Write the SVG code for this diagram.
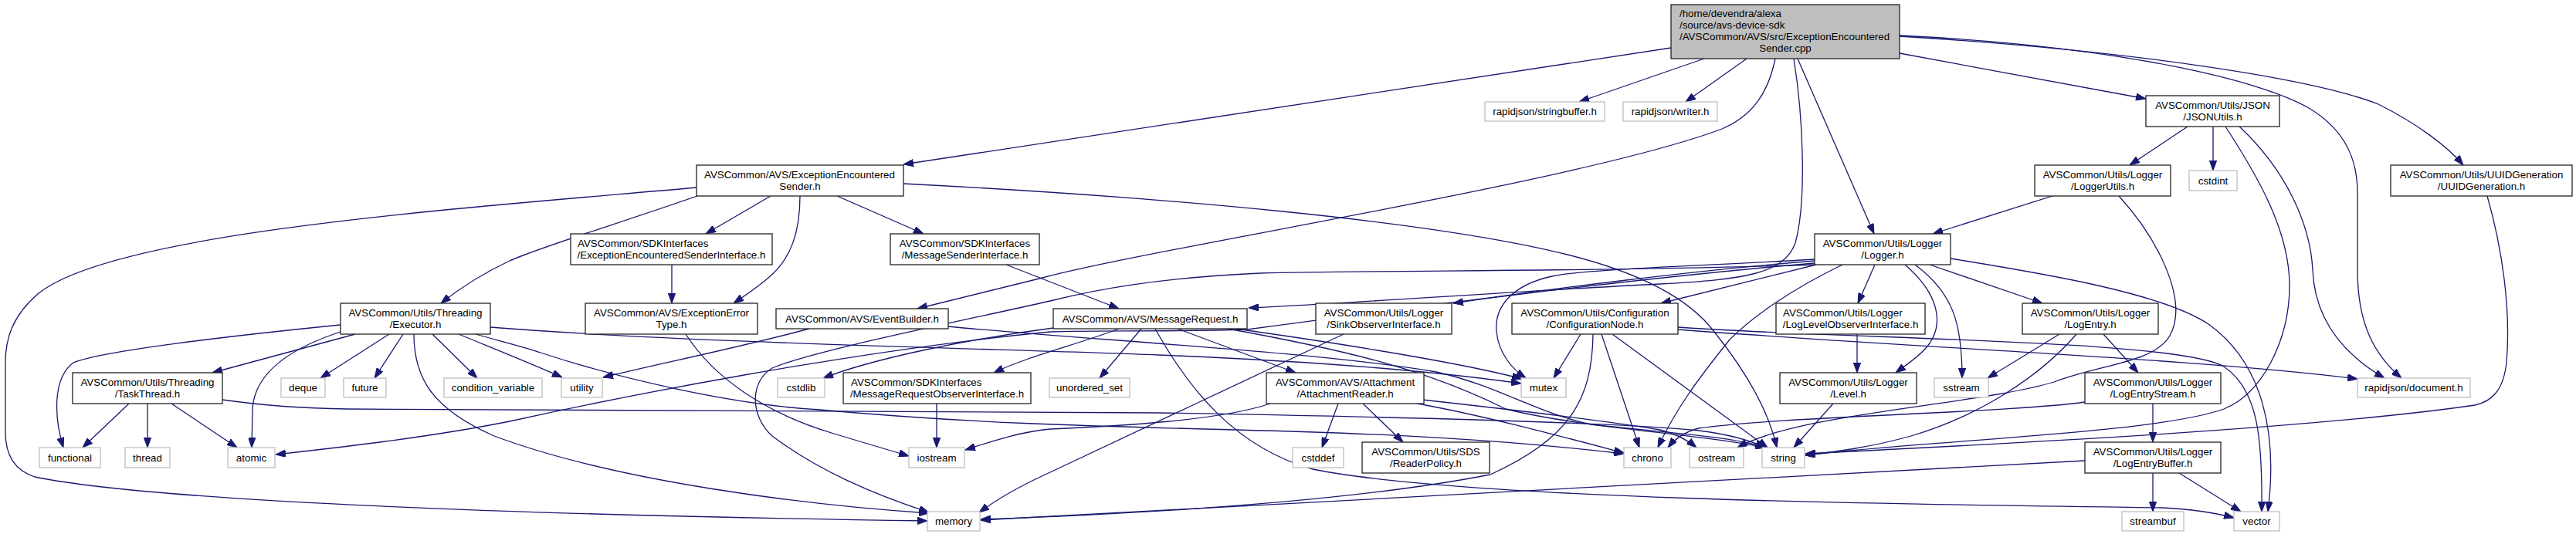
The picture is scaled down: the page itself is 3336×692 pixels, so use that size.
<svg xmlns="http://www.w3.org/2000/svg" width="3336" height="692" viewBox="0 0 3336 692">
<defs>
<marker id="a" viewBox="0 0 13 9.4" refX="13" refY="4.7" markerWidth="13" markerHeight="9.4" markerUnits="userSpaceOnUse" orient="auto"><path d="M0,0L13,4.7L0,9.4z" fill="#191970" stroke="#191970" stroke-width="1"/></marker>
<style>
.e path{fill:none;stroke:#191970;stroke-width:1.3;marker-end:url(#a)}
.n rect{fill:#fff;stroke:#222;stroke-width:1.3}
.l rect{fill:#fff;stroke:#bfbfbf;stroke-width:1.3}
.r rect{fill:#bfbfbf;stroke:#222;stroke-width:1.3}
text{font-family:"Liberation Sans",Arial,Helvetica,sans-serif;font-size:13.33px;fill:#000}
.c{text-anchor:middle}
</style>
</defs>
<rect width="3336" height="692" fill="#fff"/>
<g id="edges" class="e">
<path d="M2164,62 L1170,213"/>
<path d="M2207,76 L2045,132"/>
<path d="M2262,76 L2183,132"/>
<path d="M2299,76 C2290,120 2270,150 2230,167 C2050,235 1500,320 1350,360 L1188,400"/>
<path d="M2328,76 L2427,303"/>
<path d="M2460,69 L2779,128"/>
<path d="M2460,47 C2750,65 2990,100 3080,135 C3130,160 3170,190 3190,214"/>
<path d="M2460,46 C2750,60 2930,105 2990,140 C3040,170 3053,210 3053,250 L3053,350 C3053,420 3075,460 3110,490"/>
<path d="M2323,76 C2335,150 2340,260 2325,315 C2310,355 2260,362 2150,368 C1950,378 1750,393 1617,399"/>
<path d="M902,243 C600,270 150,300 50,380 C15,410 7,440 7,470 L7,560 C7,590 20,610 45,618 C200,650 700,668 1201,675"/>
<path d="M903,254 C800,290 700,320 660,338 C630,352 600,370 571,393"/>
<path d="M998,254 L914,303"/>
<path d="M1036,254 C1036,300 1025,335 995,360 C980,373 965,383 950,393"/>
<path d="M1084,254 L1196,303"/>
<path d="M1170,238 C1500,255 1850,285 2030,330 C2130,355 2190,390 2220,430 C2260,480 2290,530 2301,580"/>
<path d="M870,343 L870,393"/>
<path d="M1303,343 L1449,400"/>
<path d="M441,421 C300,435 130,455 95,470 C68,490 70,540 82,580"/>
<path d="M460,433 L275,483"/>
<path d="M441,430 C380,450 330,480 327,530 L326,580"/>
<path d="M504,433 L415,490"/>
<path d="M522,433 L485,490"/>
<path d="M560,433 L618,490"/>
<path d="M594,433 C640,452 690,472 728,489"/>
<path d="M536,433 C536,490 560,530 640,565 C800,625 1050,655 1203,665"/>
<path d="M635,424 C900,445 1300,452 1500,460 C1700,468 1850,480 1970,497"/>
<path d="M616,433 C640,440 680,450 700,457 C800,490 950,525 1062,531 C1250,548 1400,552 1600,557 C1800,562 1950,570 2103,588"/>
<path d="M167,523 L107,580"/>
<path d="M191,523 L191,580"/>
<path d="M222,523 L307,580"/>
<path d="M288,518 C330,524 380,529 450,530 L1500,535 C1800,540 2100,548 2200,558 C2240,563 2265,570 2286,580"/>
<path d="M888,433 C925,490 990,535 1080,562 L1177,591"/>
<path d="M1048,426 C950,452 850,472 781,489"/>
<path d="M1228,423 C1400,440 1700,455 1860,482 C1940,500 1990,535 2060,550 C2150,560 2240,565 2287,580"/>
<path d="M1478,426 L1424,490"/>
<path d="M1525,426 L1678,483"/>
<path d="M1496,426 C1540,505 1600,580 1700,608 C1900,648 2500,654 2800,658 C2840,660 2870,665 2893,671"/>
<path d="M1600,426 C1750,447 1900,472 1971,491"/>
<path d="M1590,426 C1750,455 1850,480 1950,530 C2050,555 2200,562 2287,580"/>
<path d="M1449,426 C1400,445 1330,462 1287,483"/>
<path d="M1364,425 C1250,440 1130,465 1066,490"/>
<path d="M1213,523 L1213,580"/>
<path d="M1740,433 C1650,475 1450,570 1360,612 C1320,630 1290,648 1268,664"/>
<path d="M2047,433 L2012,490"/>
<path d="M2063,433 C2062,520 2030,570 1930,615 C1750,650 1500,665 1270,673"/>
<path d="M2074,433 L2123,580"/>
<path d="M2088,433 L2289,580"/>
<path d="M2173,424 C2400,440 2820,440 2880,475 C2925,505 2930,570 2929,663"/>
<path d="M2173,427 C2500,452 2850,465 3053,491"/>
<path d="M2352,343 L2151,393"/>
<path d="M2386,343 C2320,375 2270,410 2240,440 C2200,490 2170,530 2147,580"/>
<path d="M2428,343 L2406,393"/>
<path d="M2467,343 C2510,380 2520,420 2495,450 C2485,462 2470,472 2455,483"/>
<path d="M2480,343 C2530,380 2541,420 2541,490"/>
<path d="M2499,343 L2645,393"/>
<path d="M2526,335 C2650,355 2800,380 2860,420 C2930,470 2950,560 2937,663"/>
<path d="M2350,341 C2100,362 1800,402 1615,427 C1500,430 1420,428 1360,430 C1100,455 800,515 660,546 C550,568 420,582 357,589"/>
<path d="M2350,338 C2200,350 2000,375 1882,393"/>
<path d="M2350,336 C2200,345 2060,348 2010,358 C1955,370 1935,400 1938,430 C1941,458 1958,478 1976,490"/>
<path d="M2350,343 C2100,352 1800,350 1632,354 C1500,360 1420,375 1360,390 C1250,415 1050,455 1000,477 C970,495 972,540 1000,565 C1060,610 1130,640 1203,664"/>
<path d="M2658,254 L2503,303"/>
<path d="M2744,254 C2795,310 2835,390 2810,435 C2790,470 2720,472 2660,495 C2560,525 2330,535 2250,580"/>
<path d="M2833,164 L2758,214"/>
<path d="M2866,164 L2866,221"/>
<path d="M2882,164 C2925,230 2965,300 2965,370 C2965,440 2930,510 2880,530 C2790,562 2500,570 2338,590"/>
<path d="M2900,164 C2960,220 2992,290 2995,350 C2998,420 3040,462 3088,490"/>
<path d="M3221,254 C3240,320 3252,400 3246,470 C3242,505 3228,520 3205,525 C3000,555 2600,575 2338,588"/>
<path d="M2405,433 L2405,483"/>
<path d="M2374,523 L2323,580"/>
<path d="M2667,433 L2574,490"/>
<path d="M2689,433 C2640,490 2560,540 2475,565 C2420,580 2380,585 2338,590"/>
<path d="M2724,433 L2769,483"/>
<path d="M2700,521 C2600,535 2300,540 2200,555 C2180,560 2168,570 2160,580"/>
<path d="M2788,523 L2788,573"/>
<path d="M2788,613 L2788,663"/>
<path d="M2822,613 L2902,663"/>
<path d="M2700,597 C2400,615 1800,645 1270,674"/>
<path d="M1733,523 L1712,580"/>
<path d="M1765,523 L1817,573"/>
<path d="M1830,522 C1920,538 2020,565 2103,587"/>
<path d="M1842,518 C1950,530 2080,545 2150,557 C2170,562 2185,570 2197,580"/>
<path d="M1645,523 C1580,545 1450,552 1360,556 C1320,560 1290,570 1250,583"/>
</g>
<g id="root" class="r"><rect x="2164" y="6" width="296" height="70"/><text x="2175" y="22">/home/devendra/alexa</text><text x="2175" y="37">/source/avs-device-sdk</text><text x="2175" y="51.5">/AVSCommon/AVS/src/ExceptionEncountered</text><text class="c" x="2312" y="66.5">Sender.cpp</text></g>
<g id="stringbuffer" class="l"><rect x="1923" y="132" width="155" height="25"/><text class="c" x="2000.5" y="149">rapidjson/stringbuffer.h</text></g>
<g id="writer" class="l"><rect x="2102" y="132" width="122" height="25"/><text class="c" x="2163" y="149">rapidjson/writer.h</text></g>
<g id="jsonutils" class="n"><rect x="2779" y="124" width="173" height="40"/><text class="c" x="2865.5" y="141">AVSCommon/Utils/JSON</text><text class="c" x="2865.5" y="155.7">/JSONUtils.h</text></g>
<g id="ees" class="n"><rect x="902" y="214" width="268" height="40"/><text x="912" y="231">AVSCommon/AVS/ExceptionEncountered</text><text class="c" x="1036" y="245.7">Sender.h</text></g>
<g id="loggerutils" class="n"><rect x="2635" y="214" width="176" height="40"/><text class="c" x="2723" y="231">AVSCommon/Utils/Logger</text><text class="c" x="2723" y="245.7">/LoggerUtils.h</text></g>
<g id="cstdint" class="l"><rect x="2835" y="221" width="62" height="26"/><text class="c" x="2866" y="238.5">cstdint</text></g>
<g id="uuid" class="n"><rect x="3096" y="214" width="235" height="40"/><text class="c" x="3213.5" y="231">AVSCommon/Utils/UUIDGeneration</text><text class="c" x="3213.5" y="245.7">/UUIDGeneration.h</text></g>
<g id="eesiface" class="n"><rect x="739" y="303" width="261" height="40"/><text x="748" y="320">AVSCommon/SDKInterfaces</text><text class="c" x="869.5" y="334.7">/ExceptionEncounteredSenderInterface.h</text></g>
<g id="msgsender" class="n"><rect x="1153" y="303" width="193" height="40"/><text class="c" x="1249.5" y="320">AVSCommon/SDKInterfaces</text><text class="c" x="1249.5" y="334.7">/MessageSenderInterface.h</text></g>
<g id="logger" class="n"><rect x="2350" y="303" width="176" height="40"/><text class="c" x="2438" y="320">AVSCommon/Utils/Logger</text><text class="c" x="2438" y="334.7">/Logger.h</text></g>
<g id="executor" class="n"><rect x="441" y="393" width="194" height="40"/><text class="c" x="538" y="410">AVSCommon/Utils/Threading</text><text class="c" x="538" y="424.7">/Executor.h</text></g>
<g id="errtype" class="n"><rect x="758" y="393" width="223" height="40"/><text class="c" x="869.5" y="410">AVSCommon/AVS/ExceptionError</text><text class="c" x="869.5" y="424.7">Type.h</text></g>
<g id="eventbuilder" class="n"><rect x="1005" y="400" width="223" height="26"/><text class="c" x="1116.5" y="417.7">AVSCommon/AVS/EventBuilder.h</text></g>
<g id="msgrequest" class="n"><rect x="1364" y="400" width="251" height="26"/><text class="c" x="1489.5" y="417.7">AVSCommon/AVS/MessageRequest.h</text></g>
<g id="sink" class="n"><rect x="1704" y="393" width="176" height="40"/><text class="c" x="1792" y="410">AVSCommon/Utils/Logger</text><text class="c" x="1792" y="424.7">/SinkObserverInterface.h</text></g>
<g id="confignode" class="n"><rect x="1958" y="393" width="215" height="40"/><text class="c" x="2065.5" y="410">AVSCommon/Utils/Configuration</text><text class="c" x="2065.5" y="424.7">/ConfigurationNode.h</text></g>
<g id="loglevelobs" class="n"><rect x="2300" y="393" width="193" height="40"/><text x="2309" y="410">AVSCommon/Utils/Logger</text><text class="c" x="2396.5" y="424.7">/LogLevelObserverInterface.h</text></g>
<g id="logentry" class="n"><rect x="2619" y="393" width="176" height="40"/><text class="c" x="2707" y="410">AVSCommon/Utils/Logger</text><text class="c" x="2707" y="424.7">/LogEntry.h</text></g>
<g id="taskthread" class="n"><rect x="94" y="483" width="194" height="40"/><text class="c" x="191" y="500">AVSCommon/Utils/Threading</text><text class="c" x="191" y="514.7">/TaskThread.h</text></g>
<g id="deque" class="l"><rect x="364" y="490" width="57" height="25"/><text class="c" x="392.5" y="507">deque</text></g>
<g id="future" class="l"><rect x="445" y="490" width="55" height="25"/><text class="c" x="472.5" y="507">future</text></g>
<g id="condvar" class="l"><rect x="575" y="490" width="127" height="25"/><text class="c" x="638.5" y="507">condition_variable</text></g>
<g id="utility" class="l"><rect x="727" y="490" width="53" height="25"/><text class="c" x="753.5" y="507">utility</text></g>
<g id="cstdlib" class="l"><rect x="1007" y="490" width="61" height="25"/><text class="c" x="1037.5" y="507">cstdlib</text></g>
<g id="mrobserver" class="n"><rect x="1092" y="483" width="243" height="40"/><text x="1102" y="500">AVSCommon/SDKInterfaces</text><text class="c" x="1213.5" y="514.7">/MessageRequestObserverInterface.h</text></g>
<g id="unorderedset" class="l"><rect x="1359" y="490" width="104" height="25"/><text class="c" x="1411" y="507">unordered_set</text></g>
<g id="attachreader" class="n"><rect x="1640" y="483" width="204" height="40"/><text class="c" x="1742" y="500">AVSCommon/AVS/Attachment</text><text class="c" x="1742" y="514.7">/AttachmentReader.h</text></g>
<g id="mutex" class="l"><rect x="1970" y="490" width="58" height="25"/><text class="c" x="1999" y="507">mutex</text></g>
<g id="level" class="n"><rect x="2305" y="483" width="177" height="40"/><text class="c" x="2393.5" y="500">AVSCommon/Utils/Logger</text><text class="c" x="2393.5" y="514.7">/Level.h</text></g>
<g id="sstream" class="l"><rect x="2505" y="490" width="70" height="25"/><text class="c" x="2540" y="507">sstream</text></g>
<g id="logentrystream" class="n"><rect x="2700" y="483" width="176" height="40"/><text class="c" x="2788" y="500">AVSCommon/Utils/Logger</text><text class="c" x="2788" y="514.7">/LogEntryStream.h</text></g>
<g id="document" class="l"><rect x="3053" y="490" width="146" height="25"/><text class="c" x="3126" y="507">rapidjson/document.h</text></g>
<g id="functional" class="l"><rect x="51" y="580" width="79" height="26"/><text class="c" x="90.5" y="597.5">functional</text></g>
<g id="thread" class="l"><rect x="162" y="580" width="58" height="26"/><text class="c" x="191" y="597.5">thread</text></g>
<g id="atomic" class="l"><rect x="295" y="580" width="61" height="26"/><text class="c" x="325.5" y="597.5">atomic</text></g>
<g id="iostream" class="l"><rect x="1177" y="580" width="72" height="26"/><text class="c" x="1213" y="597.5">iostream</text></g>
<g id="cstddef" class="l"><rect x="1674" y="580" width="66" height="26"/><text class="c" x="1707" y="597.5">cstddef</text></g>
<g id="readerpolicy" class="n"><rect x="1764" y="573" width="165" height="40"/><text class="c" x="1846.5" y="590">AVSCommon/Utils/SDS</text><text class="c" x="1846.5" y="604.7">/ReaderPolicy.h</text></g>
<g id="chrono" class="l"><rect x="2103" y="580" width="61" height="26"/><text class="c" x="2133.5" y="597.5">chrono</text></g>
<g id="ostream" class="l"><rect x="2188" y="580" width="70" height="26"/><text class="c" x="2223" y="597.5">ostream</text></g>
<g id="string" class="l"><rect x="2282" y="580" width="55" height="26"/><text class="c" x="2309.5" y="597.5">string</text></g>
<g id="logentrybuffer" class="n"><rect x="2700" y="573" width="176" height="40"/><text class="c" x="2788" y="590">AVSCommon/Utils/Logger</text><text class="c" x="2788" y="604.7">/LogEntryBuffer.h</text></g>
<g id="memory" class="l"><rect x="1201" y="663" width="68" height="25"/><text class="c" x="1235" y="680">memory</text></g>
<g id="streambuf" class="l"><rect x="2748" y="663" width="80" height="25"/><text class="c" x="2788" y="680">streambuf</text></g>
<g id="vector" class="l"><rect x="2893" y="663" width="59" height="25"/><text class="c" x="2922.5" y="680">vector</text></g>
</svg>
